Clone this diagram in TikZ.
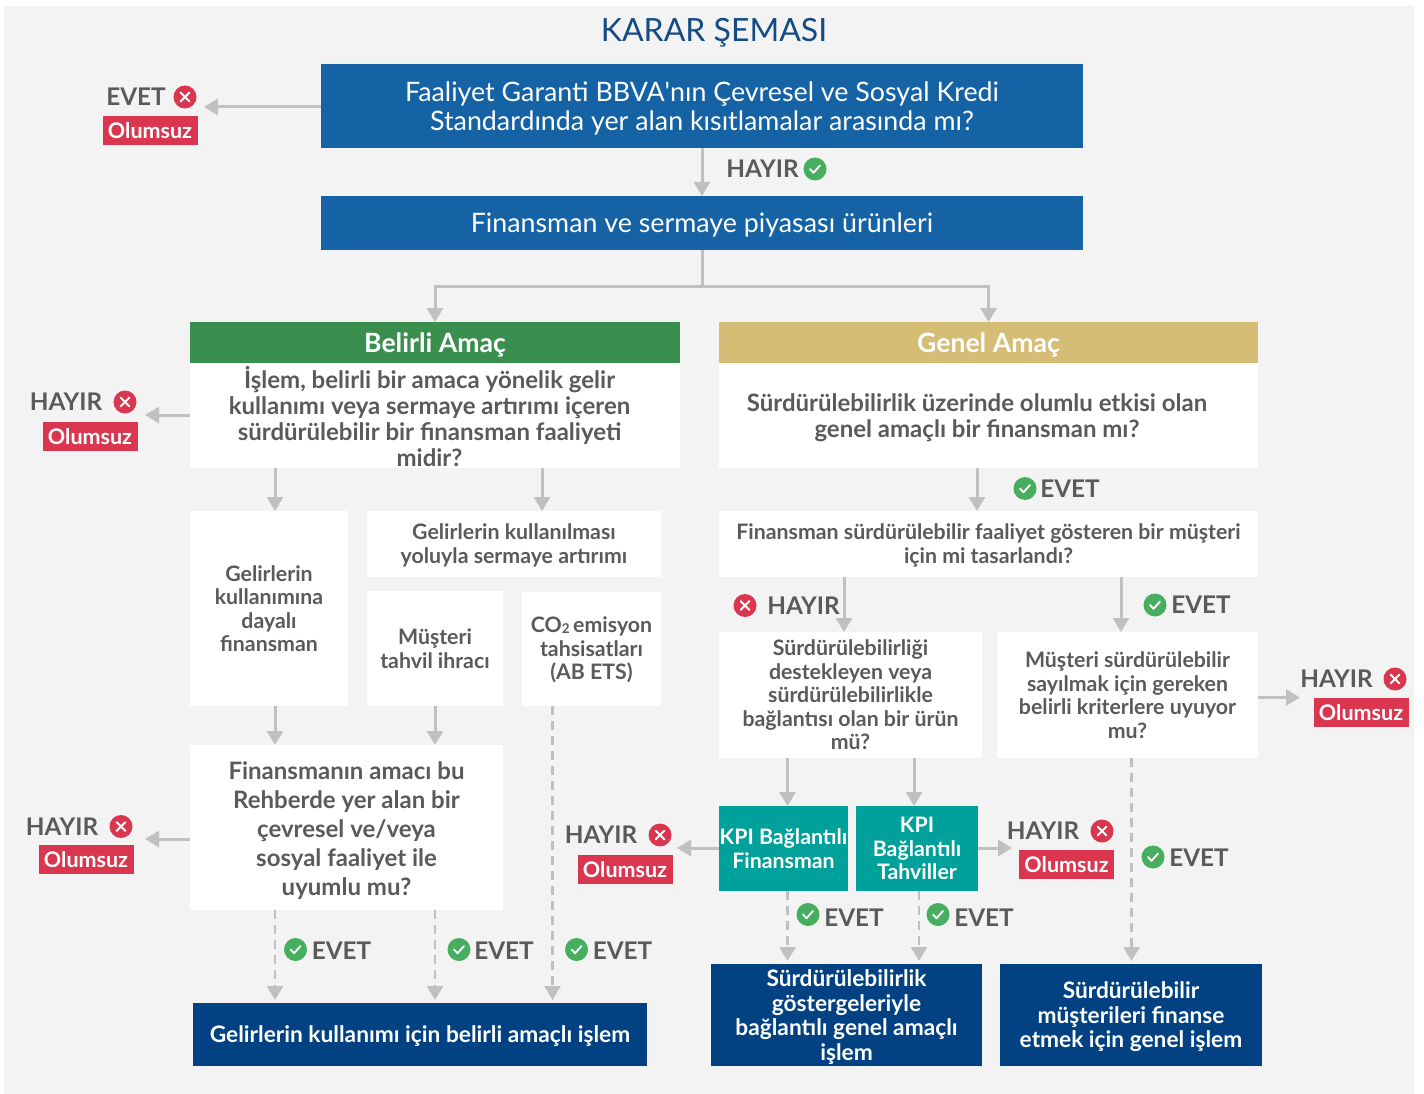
\documentclass[tikz,border=0pt]{standalone}
\usepackage{fontspec}
\setmainfont{Lato}
\usetikzlibrary{arrows.meta}
\definecolor{panel}{HTML}{F3F3F3}
\definecolor{qblue}{HTML}{1562A5}
\definecolor{titleblue}{HTML}{144B84}
\definecolor{hgreen}{HTML}{3A8F4F}
\definecolor{hgold}{HTML}{D6BD76}
\definecolor{kteal}{HTML}{00A19A}
\definecolor{rblue}{HTML}{024283}
\definecolor{nored}{HTML}{DB3650}
\definecolor{okgreen}{HTML}{47AE5F}
\definecolor{arrgray}{HTML}{C0C0C0}
\definecolor{txt}{HTML}{5A5A5A}
\newcommand\fs[2]{\fontsize{#1}{#2}\selectfont}
% #1 fill, #2 text style, #3 name, #4 centre, #5 width, #6 height, #7 xshift, #8 yshift, #9 text
\newcommand\mybox[9]{%
  \node[base, fill=#1, minimum width=#5pt, minimum height=#6pt] (#3) at (#4) {};
  \node[#2] (#3t) at ([xshift=#7pt, yshift=#8pt]#3.center) {#9};}
\begin{document}
\begin{tikzpicture}[x=1pt,y=-1pt,
  base/.style={inner sep=0pt, outer sep=0pt, align=center},
  tq/.style={base, text=white, font=\fs{26.8}{29}},
  th/.style={base, text=white, font={\bfseries\fs{26.6}{30}}},
  tw/.style={base, text=txt, font={\bfseries\fs{21.3}{23.5}}},
  twg/.style={base, text=txt, font={\bfseries\fs{21.3}{24}}},
  twl/.style={base, text=txt, font={\bfseries\fs{24}{26}}},
  twf/.style={base, text=txt, font={\bfseries\fs{24}{29}}},
  tk/.style={base, text=white, font={\bfseries\fs{21.3}{23.5}}},
  tr/.style={base, text=white, font={\bfseries\fs{22.7}{24.5}}},
  lbl/.style={inner sep=0pt, anchor=base, text=txt, font={\bfseries\fs{24.3}{28}}},
  olum/.style={base, fill=nored, text=white, font={\bfseries\fs{21.5}{24}}, minimum width=95pt, minimum height=29pt},
  conn/.style={draw=arrgray, line width=3pt, -{Triangle[width=16pt,length=14pt]}},
  dconn/.style={conn, line width=2.5pt, dash pattern=on 9pt off 6pt, shorten >=3pt},
  nox/.pic={\fill[nored] (0,0) circle[radius=11.5pt];
    \draw[white, line width=2pt, line cap=round] (-4.3,-4.3)--(4.3,4.3) (-4.3,4.3)--(4.3,-4.3);},
  okc/.pic={\fill[okgreen] (0,0) circle[radius=11.5pt];
    \draw[white, line width=1.8pt, line cap=round, line join=round] (-5,0)--(-1.5,3.8)--(5,-3.5);}
]
\useasboundingbox (0,0) rectangle (1424,1094);
\fill[white] (0,0) rectangle (1424,1094);
\fill[panel] (4,6) rectangle (1414,1094);

% title
\node[inner sep=0pt, anchor=base, text=titleblue, font=\fs{32}{38}] (title) at (714,42) {KARAR ŞEMASI};

% top boxes
\mybox{qblue}{tq}{q1}{702,106}{762}{84}{0}{-2.5}
  {Faaliyet Garanti BBVA\textquotesingle nın Çevresel ve Sosyal Kredi\\Standardında yer alan kısıtlamalar arasında mı?}
\mybox{qblue}{tq}{prod}{702,223}{762}{54}{0}{-2}
  {Finansman ve sermaye piyasası ürünleri}

% headers and bodies
\mybox{hgreen}{th}{bhead}{435,342.5}{490}{41}{0}{-2.5}{Belirli Amaç}
\mybox{white}{twl}{bbody}{435,415.5}{490}{105}{-5.5}{-1.5}
  {İşlem, belirli bir amaca yönelik gelir\\kullanımı veya sermaye artırımı içeren\\sürdürülebilir bir finansman faaliyeti\\midir?}
\mybox{hgold}{th}{ghead}{988.5,342.5}{539}{41}{0}{-2.5}{Genel Amaç}
\mybox{white}{twl}{gbody}{988.5,415.5}{539}{105}{-11.5}{-2.5}
  {Sürdürülebilirlik üzerinde olumlu etkisi olan\\genel amaçlı bir finansman mı?}

% left branch
\mybox{white}{tw}{gkd}{269,608.5}{158}{195}{0}{0}
  {Gelirlerin\\kullanımına\\dayalı\\finansman}
\mybox{white}{twg}{gks}{514,544}{294}{66}{0}{-1.5}
  {Gelirlerin kullanılması\\yoluyla sermaye artırımı}
\mybox{white}{tw}{mti}{435,648.5}{136}{115}{0}{0}
  {Müşteri\\tahvil ihracı}
\mybox{white}{tw}{co2}{591.5,649}{139}{114}{0}{-1}
  {CO\raisebox{-0.5pt}{\fs{13.5}{13.5}2}\,emisyon\\tahsisatları\\(AB ETS)}
\mybox{white}{twf}{famq}{346.5,827.5}{313}{165}{0}{-3}
  {Finansmanın amacı bu\\Rehberde yer alan bir\\çevresel ve/veya\\sosyal faaliyet ile\\uyumlu mu?}
\mybox{rblue}{tr}{res1}{420,1034.5}{454}{63}{0}{-2}
  {Gelirlerin kullanımı için belirli amaçlı işlem}

% right branch
\mybox{white}{twg}{fsq}{988.5,544}{539}{66}{0}{-1.5}
  {Finansman sürdürülebilir faaliyet gösteren bir müşteri\\için mi tasarlandı?}
\mybox{white}{tw}{sdq}{850.5,695}{263}{126}{0}{0}
  {Sürdürülebilirliği\\destekleyen veya\\sürdürülebilirlikle\\bağlantısı olan bir ürün\\mü?}
\mybox{white}{tw}{msq}{1127.5,695}{261}{126}{0}{0}
  {Müşteri sürdürülebilir\\sayılmak için gereken\\belirli kriterlere uyuyor\\mu?}
\mybox{kteal}{tk}{kpif}{783.5,848.5}{129}{85}{0}{0}
  {KPI Bağlantılı\\Finansman}
\mybox{kteal}{tk}{kpit}{917,848.5}{122}{85}{0}{0}
  {KPI\\Bağlantılı\\Tahviller}
\mybox{rblue}{tr}{res2}{846.5,1015}{271}{102}{0}{-2}
  {Sürdürülebilirlik\\göstergeleriyle\\bağlantılı genel amaçlı\\işlem}
\mybox{rblue}{tr}{res3}{1131,1015}{262}{102}{0}{-2}
  {Sürdürülebilir\\müşterileri finanse\\etmek için genel işlem}

% column coordinates and free ends
\coordinate (j) at (702,286);
\coordinate (cA) at (275,0);
\coordinate (cB) at (542,0);
\coordinate (cC) at (435,0);
\coordinate (cD) at (552.5,0);
\coordinate (cE) at (977,0);
\coordinate (cF) at (844,0);
\coordinate (cG) at (1121,0);
\coordinate (cH) at (787.5,0);
\coordinate (cI) at (914,0);
\coordinate (cK) at (919,0);
\coordinate (cJ) at (1131.5,0);
\coordinate (t1) at (204,107);
\coordinate (t2) at (145,415);
\coordinate (t3) at (145,839);
\coordinate (t4) at (1300,697.5);
\coordinate (t5) at (677,848);
\coordinate (t6) at (1012,848);

% connectors
\draw[conn] (q1.west |- t1) -- (t1);
\draw[conn] (q1.south) -- (prod.north);
\draw[conn] (prod.south) -- (j) -| (bhead.north);
\draw[conn] (j) -| (ghead.north);
\draw[conn] (bbody.west |- t2) -- (t2);
\draw[conn] (bbody.south -| cA) -- (gkd.north -| cA);
\draw[conn] (bbody.south -| cB) -- (gks.north -| cB);
\draw[conn] (gkd.south -| cA) -- (famq.north -| cA);
\draw[conn] (mti.south -| cC) -- (famq.north -| cC);
\draw[conn] (famq.west |- t3) -- (t3);
\draw[dconn] (famq.south -| cA) -- (res1.north -| cA);
\draw[dconn] (famq.south -| cC) -- (res1.north -| cC);
\draw[dconn] (co2.south -| cD) -- (res1.north -| cD);
\draw[conn] (gbody.south -| cE) -- (fsq.north -| cE);
\draw[conn] (fsq.south -| cF) -- (sdq.north -| cF);
\draw[conn] (fsq.south -| cG) -- (msq.north -| cG);
\draw[conn] (msq.east |- t4) -- (t4);
\draw[conn] (sdq.south -| cH) -- (kpif.north -| cH);
\draw[conn] (sdq.south -| cI) -- (kpit.north -| cI);
\draw[dconn] (msq.south -| cJ) -- (res3.north -| cJ);
\draw[conn] (kpif.west |- t5) -- (t5);
\draw[conn] (kpit.east |- t6) -- (t6);
\draw[dconn] (kpif.south -| cH) -- (res2.north -| cH);
\draw[dconn] (kpit.south -| cK) -- (res2.north -| cK);

% labels
\node[lbl] (l1) at (136,105.5) {EVET}; \pic at (185,97) {nox};
\node[olum] (o1) at (150,130.5) {Olumsuz};
\node[lbl] (l2) at (762.5,177.5) {HAYIR}; \pic at (815,169) {okc};
\node[lbl] (l3) at (66,410.5) {HAYIR}; \pic at (125,402) {nox};
\node[olum] (o3) at (90,436.5) {Olumsuz};
\node[lbl] (l4) at (62,835) {HAYIR}; \pic at (121,826.5) {nox};
\node[olum] (o4) at (86,859.5) {Olumsuz};
\node[lbl] (l5) at (601,843.5) {HAYIR}; \pic at (660,835) {nox};
\node[olum] (o5) at (625,869.5) {Olumsuz};
\node[lbl] (l6) at (1043,839.5) {HAYIR}; \pic at (1102,831) {nox};
\node[olum] (o6) at (1066.5,864.5) {Olumsuz};
\node[lbl] (l7) at (1336.5,687.5) {HAYIR}; \pic at (1395,679) {nox};
\node[olum] (o7) at (1361,712.5) {Olumsuz};
\node[lbl] (l8) at (803.5,614) {HAYIR}; \pic at (745,605.5) {nox};
\node[lbl] (l9) at (1070,497.5) {EVET}; \pic at (1025,488.5) {okc};
\node[lbl] (l10) at (1201,613.5) {EVET}; \pic at (1155,605) {okc};
\node[lbl] (l11) at (1199,866) {EVET}; \pic at (1153,857) {okc};
\node[lbl] (l12) at (854,926) {EVET}; \pic at (808,914.5) {okc};
\node[lbl] (l13) at (984,926.5) {EVET}; \pic at (938,914.5) {okc};
\node[lbl] (l14) at (341.5,959.5) {EVET}; \pic at (295.5,949.5) {okc};
\node[lbl] (l15) at (504,959.5) {EVET}; \pic at (459,949.5) {okc};
\node[lbl] (l16) at (622.5,959.5) {EVET}; \pic at (576.5,949.5) {okc};
\end{tikzpicture}
\end{document}
